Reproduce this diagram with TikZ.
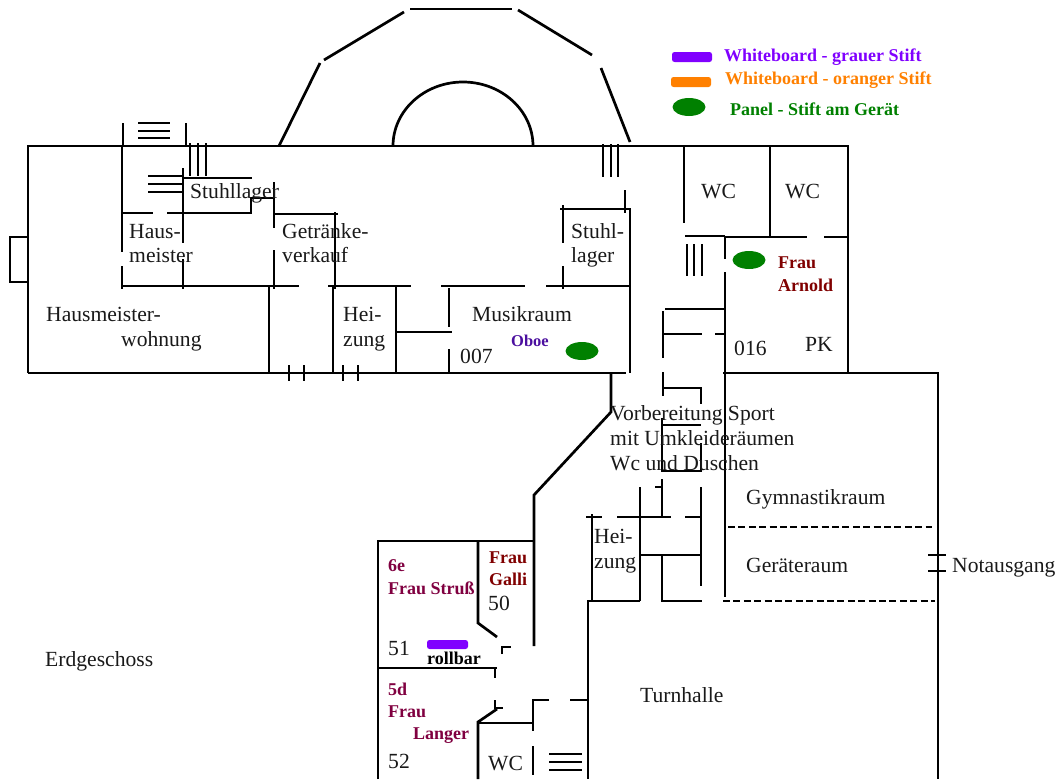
\documentclass[tikz,border=0pt]{standalone}
\usepackage{fontspec}
\setmainfont{Liberation Serif}
\usetikzlibrary{shapes.geometric}
\definecolor{panelgreen}{HTML}{008000}
\definecolor{wbpurple}{HTML}{8000FF}
\definecolor{wborange}{HTML}{FF8000}
\definecolor{arnold}{HTML}{800000}
\definecolor{klasse}{HTML}{800040}
\definecolor{oboe}{HTML}{4B0F9F}
\tikzset{
  wall/.style={line width=2.7pt},
  dashwall/.style={line width=2pt,dash pattern=on 7pt off 3.4pt},
  lbl/.style={anchor=base west,inner sep=0pt,font=\fontsize{21.6}{26}\selectfont,text=black!90},
  blbl/.style={anchor=base west,inner sep=0pt,font=\fontsize{18}{22}\selectfont\bfseries},
  panel/.style={ellipse,fill=panelgreen,minimum width=33pt,minimum height=18pt,inner sep=0pt},
}
\begin{document}
\begin{tikzpicture}[x=1pt,y=-1pt]
\useasboundingbox (0,0) rectangle (1056,779);
% outer shell
\draw[wall] (28,373) -- (28,146) -- (848,146) -- (848,373);
\draw[wall] (28,373) -- (625,373);
\draw[wall] (28,237) -- (10,237) -- (10,282) -- (28,282);
% dome
\draw[wall] (279,146) -- (320,63);
\draw[wall] (324,60) -- (404,12);
\draw[wall] (410,9) -- (512,9);
\draw[wall] (518,10) -- (592,55);
\draw[wall] (601,68) -- (630,142);
\draw[wall] (393,146) arc[start angle=180,end angle=360,x radius=70,y radius=64];
% upper-left stairs
\draw[wall] (123,123) -- (123,146);
\draw[wall] (186,123) -- (186,146);
\foreach \yy in {123,131,138} \draw[wall] (138,\yy) -- (170,\yy);
% Hausmeister / Stuhllager
\draw[wall] (122,146) -- (122,252);
\draw[wall] (122,266) -- (122,289);
\draw[wall] (122,213) -- (153,213);
\draw[wall] (167,213) -- (251,213) -- (251,198) -- (275,198);
\draw[wall] (183,168) -- (183,243);
\draw[wall] (183,259) -- (183,289);
\draw[wall] (122,286) -- (299,286);
\draw[wall] (328,286) -- (411,286);
\draw[wall] (441,286) -- (525,286);
\draw[wall] (546,286) -- (630,286);
\foreach \xx in {190,198,206} \draw[wall] (\xx,143) -- (\xx,176);
\draw[wall] (183,178) -- (252,178);
\foreach \yy in {176,184,192} \draw[wall] (148,\yy) -- (183,\yy);
\draw[wall] (274,182) -- (274,228);
\draw[wall] (274,250) -- (274,289);
\draw[wall] (274,214) -- (338,214);
\draw[wall] (335,212) -- (335,289);
\draw[wall] (269,286) -- (269,373);
\draw[wall] (333,286) -- (333,373);
\foreach \xx in {289,304,343,358} \draw[wall] (\xx,365) -- (\xx,381);
% Musikraum
\draw[wall] (396,286) -- (396,373);
\draw[wall] (396,332) -- (452,332);
\draw[wall] (449,288) -- (449,327);
\draw[wall] (449,349) -- (449,373);
\draw[wall] (563,205) -- (563,243);
\draw[wall] (563,266) -- (563,289);
\draw[wall] (560,209) -- (630,209) -- (630,373);
\draw[wall] (625,190) -- (625,213);
\foreach \xx in {603,611,618} \draw[wall] (\xx,144) -- (\xx,177);
% WC / PK
\draw[wall] (684,146) -- (684,223);
\draw[wall] (770,146) -- (770,237);
\draw[wall] (685,236) -- (725,236);
\draw[wall] (725,237) -- (807,237);
\draw[wall] (824,237) -- (848,237);
\draw[wall] (725,237) -- (725,259);
\draw[wall] (725,272) -- (725,597);
\foreach \xx in {687,694,702} \draw[wall] (\xx,244) -- (\xx,276);
\draw[wall] (665,309) -- (725,309);
\draw[wall] (663,311) -- (663,358);
\draw[wall] (663,372) -- (663,396);
\draw[wall] (663,334) -- (702,334);
\draw[wall] (715,334) -- (725,334);
\draw[wall] (723,373) -- (938,373) -- (938,779);
\draw[wall] (928,555) -- (946,555);
\draw[wall] (928,571) -- (946,571);
% corridor to the south
\draw[wall] (610,373) -- (626,373);
\draw[wall] (611,373) -- (611,412) -- (534,495) -- (534,646);
\draw[wall] (663,388) -- (701,388) -- (701,404);
\draw[wall] (662,425) -- (701,425);
\draw[wall] (662,418) -- (662,471) -- (701,471) -- (701,443);
\draw[wall] (655,487) -- (662,487);
\draw[wall] (662,479) -- (662,517);
\draw[wall] (640,487) -- (640,601);
\draw[wall] (586,517) -- (602,517);
\draw[wall] (617,517) -- (671,517);
\draw[wall] (685,517) -- (701,517);
\draw[wall] (701,487) -- (701,586);
\draw[wall] (640,555) -- (701,555);
\draw[wall] (662,555) -- (662,601) -- (702,601);
\draw[wall] (592,514) -- (592,601);
\draw[wall] (587,601) -- (640,601);
\draw[wall] (588,601) -- (588,779);
\draw[dashwall] (728,527) -- (932,527);
\draw[dashwall] (723,601) -- (935,601);
% classrooms
\draw[wall] (378,779) -- (378,541) -- (534,541);
\draw[wall] (478,541) -- (478,623) -- (497,637);
\draw[wall] (502,654) -- (502,647) -- (511,647);
\draw[wall] (378,668) -- (497,668);
\draw[wall] (495,669) -- (495,678);
\draw[wall] (495,700) -- (495,708) -- (503,708);
\draw[wall] (497,709) -- (478,722) -- (478,779);
\draw[wall] (478,723) -- (533,723);
\draw[wall] (549,700) -- (533,700) -- (533,731);
\draw[wall] (533,746) -- (533,775);
\draw[wall] (570,700) -- (588,700);
\foreach \yy in {754,762,770} \draw[wall] (549,\yy) -- (582,\yy);
% markers
\node[panel] (mp1) at (689,107) {};
\node[panel] (mp2) at (582,351) {};
\node[panel] (mp3) at (749,260) {};
\fill[wbpurple,rounded corners=2.5pt] (672,52) rectangle (712,62);
\fill[wborange,rounded corners=2.5pt] (671,77) rectangle (711,87);
\fill[wbpurple,rounded corners=2.5pt] (427,640) rectangle (468,649);
% legend
\node[blbl,text=wbpurple] (t1) at (724,61) {Whiteboard - grauer Stift};
\node[blbl,text=wborange] (t2) at (725,84) {Whiteboard - oranger Stift};
\node[blbl,text=panelgreen] (t3) at (730,115) {Panel - Stift am Gerät};
% labels
\node[lbl] (a1) at (46,321) {Hausmeister-};
\node[lbl] (a2) at (121,346) {wohnung};
\node[lbl] (a3) at (129,238) {Haus-};
\node[lbl] (a4) at (129,262) {meister};
\node[lbl] (a5) at (190,198) {Stuhllager};
\node[lbl] (a6) at (282,238) {Getränke-};
\node[lbl] (a7) at (282,262) {verkauf};
\node[lbl] (a8) at (343,321) {Hei-};
\node[lbl] (a9) at (343,346) {zung};
\node[lbl] (a10) at (472,321) {Musikraum};
\node[blbl,text=oboe,font=\fontsize{16.5}{20}\selectfont\bfseries] (a11) at (511,346) {Oboe};
\node[lbl] (a12) at (460,363) {007};
\node[lbl] (a13) at (571,238) {Stuhl-};
\node[lbl] (a14) at (571,262) {lager};
\node[lbl] (a15) at (701,198) {WC};
\node[lbl] (a16) at (785,198) {WC};
\node[blbl,text=arnold] (a17) at (778,268) {Frau};
\node[blbl,text=arnold] (a18) at (778,291) {Arnold};
\node[lbl] (a19) at (734,355) {016};
\node[lbl] (a20) at (805,351) {PK};
\node[lbl] (a21) at (610,420) {Vorbereitung Sport};
\node[lbl] (a22) at (610,445) {mit Umkleideräumen};
\node[lbl] (a23) at (610,470) {Wc und Duschen};
\node[lbl] (a24) at (746,504) {Gymnastikraum};
\node[lbl] (a25) at (746,572) {Geräteraum};
\node[lbl] (a26) at (952,572) {Notausgang};
\node[lbl] (a27) at (594,543) {Hei-};
\node[lbl] (a28) at (594,568) {zung};
\node[blbl,text=arnold] (a29) at (489,563) {Frau};
\node[blbl,text=arnold] (a30) at (489,585) {Galli};
\node[lbl] (a31) at (488,610) {50};
\node[blbl,text=klasse] (a32) at (388,571) {6e};
\node[blbl,text=klasse] (a33) at (388,594) {Frau Struß};
\node[lbl] (a34) at (388,655) {51};
\node[blbl,text=black] (a35) at (427,664) {rollbar};
\node[blbl,text=klasse] (a36) at (388,695) {5d};
\node[blbl,text=klasse] (a37) at (388,717) {Frau};
\node[blbl,text=klasse] (a38) at (413,739) {Langer};
\node[lbl] (a39) at (388,768) {52};
\node[lbl] (a40) at (488,770) {WC};
\node[lbl] (a41) at (640,702) {Turnhalle};
\node[lbl] (a42) at (45,666) {Erdgeschoss};
\end{tikzpicture}
\end{document}
